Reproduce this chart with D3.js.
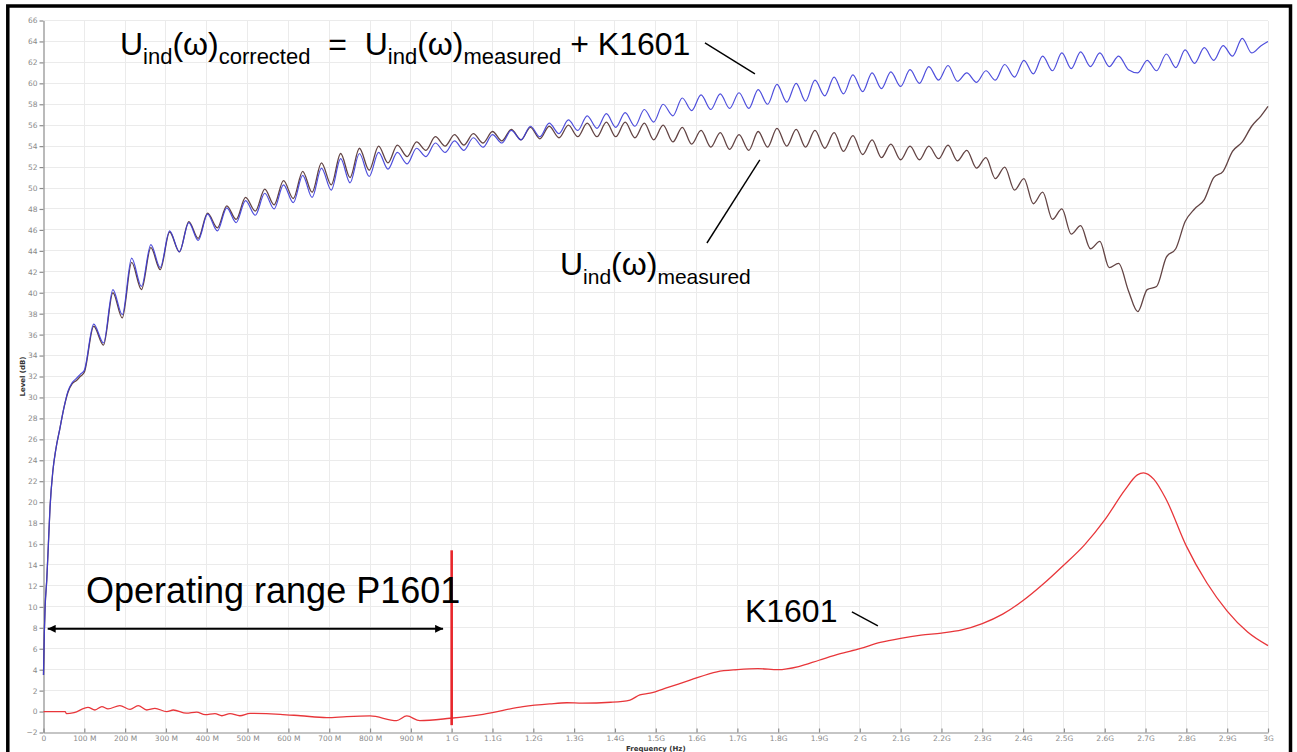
<!DOCTYPE html>
<html lang="en">
<head>
    <meta charset="UTF-8">
    <title>Induced voltage, measured and corrected with K1601</title>
    <script src="https://d3js.org/d3.v7.min.js"></script>
    <style>
        body {
            margin: 0;
            padding: 0;
            background-color: #fff;
        }

        svg {
            display: block;
        }

        .grid line {
            stroke: #ebebeb;
            stroke-width: 1px;
            shape-rendering: crispEdges;
        }

        .axis path,
        .axis line {
            stroke: #8c8c8c;
            stroke-width: 1.2px;
        }

        .axis text {
            font-family: "DejaVu Sans", sans-serif;
            font-size: 7.5px;
            fill: #8a8a8a;
        }

        .axis-title {
            font-family: "DejaVu Sans", sans-serif;
            font-size: 7px;
            font-weight: bold;
            fill: #333;
        }

        .note {
            font-family: "Liberation Sans", Arial, sans-serif;
            fill: #000;
            white-space: pre;
        }

        .pointer {
            stroke: #000;
            stroke-width: 1.4px;
        }
    </style>
</head>
<body>
    <svg width="1297" height="752"></svg>

    <script>
        // sample points, frequency in GHz (peaks and troughs of the ripple)
        const freqGHz = [
            0, 0.002, 0.004, 0.008, 0.012, 0.016, 0.023, 0.03, 0.04, 0.05, 0.06, 0.07, 0.08, 0.09,
            0.100, 0.123, 0.147, 0.170, 0.193, 0.216, 0.240, 0.263, 0.286, 0.309,
            0.333, 0.356, 0.379, 0.402, 0.426, 0.449, 0.472, 0.495, 0.519, 0.542,
            0.565, 0.588, 0.612, 0.635, 0.658, 0.681, 0.705, 0.728, 0.751, 0.774,
            0.798, 0.821, 0.844, 0.867, 0.891, 0.914, 0.937, 0.960, 0.984, 1.007,
            1.030, 1.053, 1.077, 1.100, 1.123, 1.146, 1.170, 1.193, 1.216, 1.239,
            1.263, 1.286, 1.309, 1.332, 1.356, 1.379, 1.402, 1.425, 1.449, 1.472,
            1.495, 1.518, 1.542, 1.565, 1.588, 1.611, 1.635, 1.658, 1.681, 1.704,
            1.728, 1.751, 1.774, 1.797, 1.821, 1.844, 1.867, 1.890, 1.914, 1.937,
            1.960, 1.983, 2.007, 2.030, 2.053, 2.076, 2.100, 2.123, 2.146, 2.169,
            2.193, 2.216, 2.239, 2.262, 2.286, 2.309, 2.332, 2.355, 2.379, 2.402,
            2.425, 2.448, 2.472, 2.495, 2.518, 2.541, 2.565, 2.588, 2.611, 2.634,
            2.658, 2.681, 2.704, 2.727, 2.751, 2.774, 2.797, 2.820, 2.844, 2.867,
            2.890, 2.913, 2.937, 2.960, 2.983, 3.000
        ];

        // U_ind(w) measured, dB
        const measuredDb = [
            3.5, 7.5, 10, 12.6, 16, 19.5, 23, 25, 27, 29, 30.5, 31.3, 31.6, 32.0,
            32.4, 36.8, 35.0, 40.0, 37.6, 42.9, 40.3, 44.3, 42.2, 45.8,
            43.9, 46.8, 45.2, 47.6, 46.2, 48.3, 47.0, 49.1, 47.8, 49.9,
            48.4, 50.7, 49.0, 51.6, 49.6, 52.4, 50.3, 53.3, 51.0, 53.8,
            51.7, 54.0, 52.4, 54.1, 53.0, 54.4, 53.6, 54.9, 54.0, 55.1,
            54.1, 55.2, 54.3, 55.4, 54.5, 55.6, 54.6, 55.8, 54.7, 55.9,
            54.8, 56.0, 54.9, 56.2, 54.9, 56.3, 54.9, 56.3, 54.8, 56.2,
            54.6, 56.0, 54.4, 55.8, 54.2, 55.5, 53.9, 55.3, 53.7, 55.1,
            53.6, 55.4, 53.9, 55.7, 54.0, 55.6, 53.9, 55.5, 53.8, 55.3,
            53.5, 55.0, 53.2, 54.6, 52.9, 54.2, 52.7, 54.0, 52.7, 54.0,
            52.8, 54.1, 52.6, 53.6, 51.9, 52.9, 50.9, 52.0, 49.8, 50.9,
            48.5, 49.6, 47.0, 48.0, 45.6, 46.4, 44.2, 44.9, 42.4, 42.8,
            40.2, 38.2, 40.3, 40.6, 43.4, 44.2, 46.8, 48.0, 48.9, 51.0,
            51.6, 53.5, 54.4, 55.9, 56.9, 57.8
        ];

        // U_ind(w) corrected, dB
        const correctedDb = [
            3.5, 7.5, 10, 12.6, 16, 19.5, 23, 25, 27, 29, 30.6, 31.4, 31.8, 32.2,
            32.6, 37.0, 35.2, 40.3, 37.9, 43.3, 40.6, 44.6, 42.4, 45.9,
            43.9, 46.7, 45.0, 47.5, 45.9, 48.1, 46.7, 48.8, 47.4, 49.5,
            48.0, 50.3, 48.6, 51.2, 49.1, 51.9, 49.8, 52.8, 50.5, 53.3,
            51.1, 53.4, 51.8, 53.4, 52.3, 53.8, 53.0, 54.3, 53.4, 54.5,
            53.6, 54.8, 53.9, 55.1, 54.3, 55.5, 54.6, 55.9, 54.9, 56.2,
            55.2, 56.5, 55.5, 56.9, 55.7, 57.1, 55.8, 57.2, 55.9, 57.5,
            56.3, 58.0, 56.9, 58.6, 57.4, 58.9, 57.5, 59.0, 57.6, 59.1,
            57.6, 59.4, 58.0, 59.9, 58.2, 60.0, 58.3, 60.3, 58.8, 60.6,
            59.0, 60.8, 59.2, 61.0, 59.5, 61.1, 59.7, 61.3, 60.0, 61.6,
            60.3, 61.7, 60.2, 61.0, 60.1, 61.2, 60.3, 61.8, 60.6, 62.2,
            60.9, 62.6, 61.2, 62.9, 61.4, 63.0, 61.6, 62.9, 61.6, 62.6,
            61.3, 61.0, 62.2, 61.2, 62.8, 61.5, 63.2, 61.9, 63.4, 62.2,
            63.6, 62.6, 64.3, 62.9, 63.6, 64.0
        ];

        // correction factor K1601
        const kFreqGHz = [
            0, 0.053, 0.056, 0.075, 0.109, 0.126, 0.143, 0.158, 0.187, 0.212,
            0.232, 0.253, 0.273, 0.302, 0.318, 0.35, 0.375, 0.396, 0.42, 0.437,
            0.457, 0.481, 0.506, 0.58, 0.63, 0.694, 0.743, 0.8, 0.865, 0.89,
            0.922, 0.996, 1.077, 1.175, 1.24, 1.282, 1.32, 1.39, 1.437, 1.461,
            1.486, 1.53, 1.584, 1.65, 1.7, 1.75, 1.8, 1.85, 1.9, 1.95,
            2.0, 2.05, 2.1, 2.15, 2.2, 2.25, 2.3, 2.35, 2.4, 2.45,
            2.5, 2.55, 2.6, 2.65, 2.68, 2.695, 2.72, 2.75, 2.8, 2.85,
            2.9, 2.95, 3.0
        ];
        const k1601Db = [
            0, 0, -0.2, -0.1, 0.4, 0.15, 0.47, 0.25, 0.57, 0.2,
            0.57, 0.15, 0.3, 0, 0.15, -0.15, -0.05, -0.3, -0.2, -0.4,
            -0.2, -0.4, -0.17, -0.26, -0.4, -0.58, -0.48, -0.42, -0.87, -0.42,
            -0.87, -0.64, -0.26, 0.47, 0.73, 0.84, 0.8, 0.89, 1.1, 1.6,
            1.75, 2.3, 3.0, 3.8, 4.0, 4.1, 4.0, 4.3, 4.9, 5.5,
            6.0, 6.6, 7.0, 7.3, 7.5, 7.8, 8.4, 9.3, 10.6, 12.2,
            14.0, 15.9, 18.3, 21.2, 22.6, 22.8, 22.2, 20.3, 15.8, 12.3,
            9.6, 7.6, 6.3
        ];

        const xTickValues = [
            0, 0.1, 0.2, 0.3, 0.4, 0.5, 0.6, 0.7, 0.8, 0.9, 1.0,
            1.1, 1.2, 1.3, 1.4, 1.5, 1.6, 1.7, 1.8, 1.9, 2.0,
            2.1, 2.2, 2.3, 2.4, 2.5, 2.6, 2.7, 2.8, 2.9, 3.0
        ];
        const xTickLabels = [
            "0", "100 M", "200 M", "300 M", "400 M", "500 M", "600 M", "700 M", "800 M", "900 M", "1 G",
            "1.1G", "1.2G", "1.3G", "1.4G", "1.5G", "1.6G", "1.7G", "1.8G", "1.9G", "2 G",
            "2.1G", "2.2G", "2.3G", "2.4G", "2.5G", "2.6G", "2.7G", "2.8G", "2.9G", "3G"
        ];
        const yTickValues = [
            -2, 0, 2, 4, 6, 8, 10, 12, 14, 16, 18, 20, 22, 24, 26, 28, 30, 32,
            34, 36, 38, 40, 42, 44, 46, 48, 50, 52, 54, 56, 58, 60, 62, 64, 66
        ];

        const svg = d3.select("svg");

        const x = d3.scaleLinear().domain([0, 3]).range([43.5, 1268]);
        const y = d3.scaleLinear().domain([-2, 66]).range([732.5, 20.5]);

        // grid
        const grid = svg.append("g").attr("class", "grid");
        grid.selectAll(".gv")
            .data(xTickValues.slice(1))
            .enter().append("line")
            .attr("class", "gv")
            .attr("x1", d => x(d)).attr("x2", d => x(d))
            .attr("y1", y(-2)).attr("y2", y(66));
        grid.selectAll(".gh")
            .data(yTickValues.slice(1))
            .enter().append("line")
            .attr("class", "gh")
            .attr("x1", x(0)).attr("x2", x(3))
            .attr("y1", d => y(d)).attr("y2", d => y(d));

        // axes
        svg.append("g")
            .attr("class", "axis")
            .attr("transform", `translate(0,${y(-2)})`)
            .call(d3.axisBottom(x)
                .tickValues(xTickValues)
                .tickFormat((d, i) => xTickLabels[i])
                .tickSize(-4)
                .tickSizeOuter(0)
                .tickPadding(3.5));

        svg.append("g")
            .attr("class", "axis")
            .attr("transform", `translate(${x(0)},0)`)
            .call(d3.axisLeft(y)
                .tickValues(yTickValues)
                .tickSize(4)
                .tickSizeOuter(0)
                .tickPadding(2));

        svg.append("text")
            .attr("class", "axis-title")
            .attr("x", (x(0) + x(3)) / 2)
            .attr("y", 751)
            .attr("text-anchor", "middle")
            .text("Frequency (Hz)");

        svg.append("text")
            .attr("class", "axis-title")
            .attr("transform", `translate(25,${(y(-2) + y(66)) / 2}) rotate(-90)`)
            .attr("text-anchor", "middle")
            .text("Level (dB)");

        // series
        const line = (xs, ys) => d3.line()
            .x((d, i) => x(xs[i]))
            .y(d => y(d))
            .curve(d3.curveMonotoneX)(ys);

        svg.append("path")
            .attr("d", line(kFreqGHz, k1601Db))
            .attr("fill", "none")
            .attr("stroke", "#e8363a")
            .attr("stroke-width", 1.3);

        svg.append("path")
            .attr("d", line(freqGHz, measuredDb))
            .attr("fill", "none")
            .attr("stroke", "#634444")
            .attr("stroke-width", 1.3);

        svg.append("path")
            .attr("d", line(freqGHz, correctedDb))
            .attr("fill", "none")
            .attr("stroke", "#3b3bd8")
            .attr("stroke-width", 1.2)
            .attr("stroke-opacity", 0.9);

        // operating range marker
        svg.append("line")
            .attr("x1", x(1.0)).attr("x2", x(1.0))
            .attr("y1", y(-1.3)).attr("y2", y(15.4))
            .attr("stroke", "#e8262b")
            .attr("stroke-width", 2.6);

        const defs = svg.append("defs");
        defs.append("marker")
            .attr("id", "arrowHead")
            .attr("viewBox", "0 0 10 10")
            .attr("refX", 10)
            .attr("refY", 5)
            .attr("markerUnits", "userSpaceOnUse")
            .attr("markerWidth", 12)
            .attr("markerHeight", 8)
            .attr("orient", "auto-start-reverse")
            .append("path")
            .attr("d", "M0,0 L10,5 L0,10 Z")
            .attr("fill", "#000");

        svg.append("line")
            .attr("x1", x(0.0103)).attr("x2", x(0.979))
            .attr("y1", y(7.9)).attr("y2", y(7.9))
            .attr("stroke", "#000")
            .attr("stroke-width", 2)
            .attr("marker-start", "url(#arrowHead)")
            .attr("marker-end", "url(#arrowHead)");

        // annotations: [f GHz, dB] pairs
        const pointers = [
            [[1.6205, 63.86], [1.743, 60.9]],
            [[1.6254, 44.75], [1.755, 52.68]],
            [[1.9806, 9.51], [2.0443, 8.18]]
        ];
        svg.selectAll(".pointer")
            .data(pointers)
            .enter().append("line")
            .attr("class", "pointer")
            .attr("x1", d => x(d[0][0])).attr("y1", d => y(d[0][1]))
            .attr("x2", d => x(d[1][0])).attr("y2", d => y(d[1][1]));

        function addNote(parts, fx, fy, size, subSize) {
            const t = svg.append("text")
                .attr("class", "note")
                .attr("x", x(fx))
                .attr("y", y(fy));
            let low = false;
            parts.forEach(p => {
                const sub = p.startsWith("_");
                const span = t.append("tspan")
                    .attr("font-size", sub ? subSize : size)
                    .text(sub ? p.slice(1) : p);
                if (sub && !low) span.attr("dy", 9);
                if (!sub && low) span.attr("dy", -9);
                low = sub;
            });
        }

        addNote(["U", "_ind", "(ω)", "_corrected", "  =  U", "_ind", "(ω)", "_measured", " + K1601"],
            0.1874, 62.71, 32, 22);
        addNote(["U", "_ind", "(ω)", "_measured"], 1.2653, 41.7, 32, 21);
        addNote(["K1601"], 1.7185, 8.56, 32, 21);
        addNote(["Operating range P1601"], 0.1041, 10.37, 36, 21);

        // frame
        svg.append("rect")
            .attr("x", 7.8)
            .attr("y", 6)
            .attr("width", 1282.7)
            .attr("height", 770)
            .attr("fill", "none")
            .attr("stroke", "#000")
            .attr("stroke-width", 3.5);
    </script>
</body>
</html>
